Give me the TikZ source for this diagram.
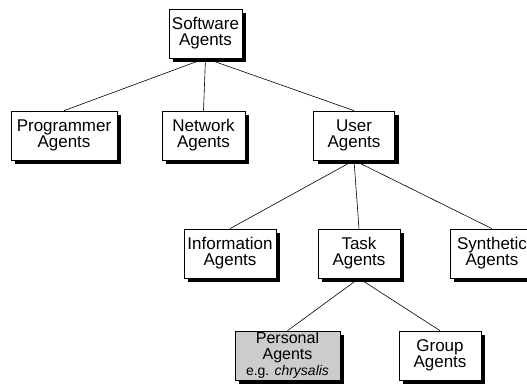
\documentclass[tikz,border=0pt]{standalone}
\usepackage{fontspec}
\setmainfont{Liberation Sans}
\usetikzlibrary{shadows,backgrounds}

\begin{document}
\begin{tikzpicture}[x=1pt,y=1pt,
    agent/.style={draw=black,fill=white,line width=0.7pt,minimum width=81pt,minimum height=49pt,
      inner xsep=3pt,inner ysep=1pt,align=center,font=\fontsize{17}{16}\selectfont,
      drop shadow={opacity=1,fill=black,shadow xshift=4pt,shadow yshift=-4pt}},
    link/.style={line width=0.6pt}]
  \useasboundingbox (0,0) rectangle (527,383);

  \node[agent,minimum width=71pt] (soft) at (205.5,349.5) {Software\\Agents};

  \node[agent,minimum width=106pt] (prog) at (64,247.5) {Programmer\\Agents};
  \node[agent,minimum width=83pt] (netw) at (203.5,247.5) {Network\\Agents};
  \node[agent] (user) at (354,247.5) {User\\Agents};

  \node[agent,minimum width=92pt] (info) at (230,129.5) {Information\\Agents};
  \node[agent,minimum width=82pt] (task) at (359,129.5) {Task\\Agents};
  \node[agent,minimum width=84pt] (synth) at (492,129.5) {Synthetic\\Agents};

  \node[agent,fill=black!20,minimum width=105pt,inner ysep=0pt,font=\fontsize{16}{16}\selectfont] (pers) at (287.5,27.5)
    {Personal\\Agents\\{\fontsize{14}{16}\selectfont e.g. \textit{chrysalis}}};
  \node[agent,minimum width=82pt] (group) at (440,27.5) {Group\\Agents};

  \begin{scope}[on background layer]
    \draw[link] (soft.south) -- (prog.north);
    \draw[link] (soft.south) -- (netw.north);
    \draw[link] (soft.south) -- (user.north);
    \draw[link] (user.south) -- (info.north);
    \draw[link] (user.south) -- (task.north);
    \draw[link] (user.south) -- (synth.north);
    \draw[link] (task.south) -- (pers.north);
    \draw[link] (task.south) -- (group.north);
  \end{scope}
\end{tikzpicture}
\end{document}
